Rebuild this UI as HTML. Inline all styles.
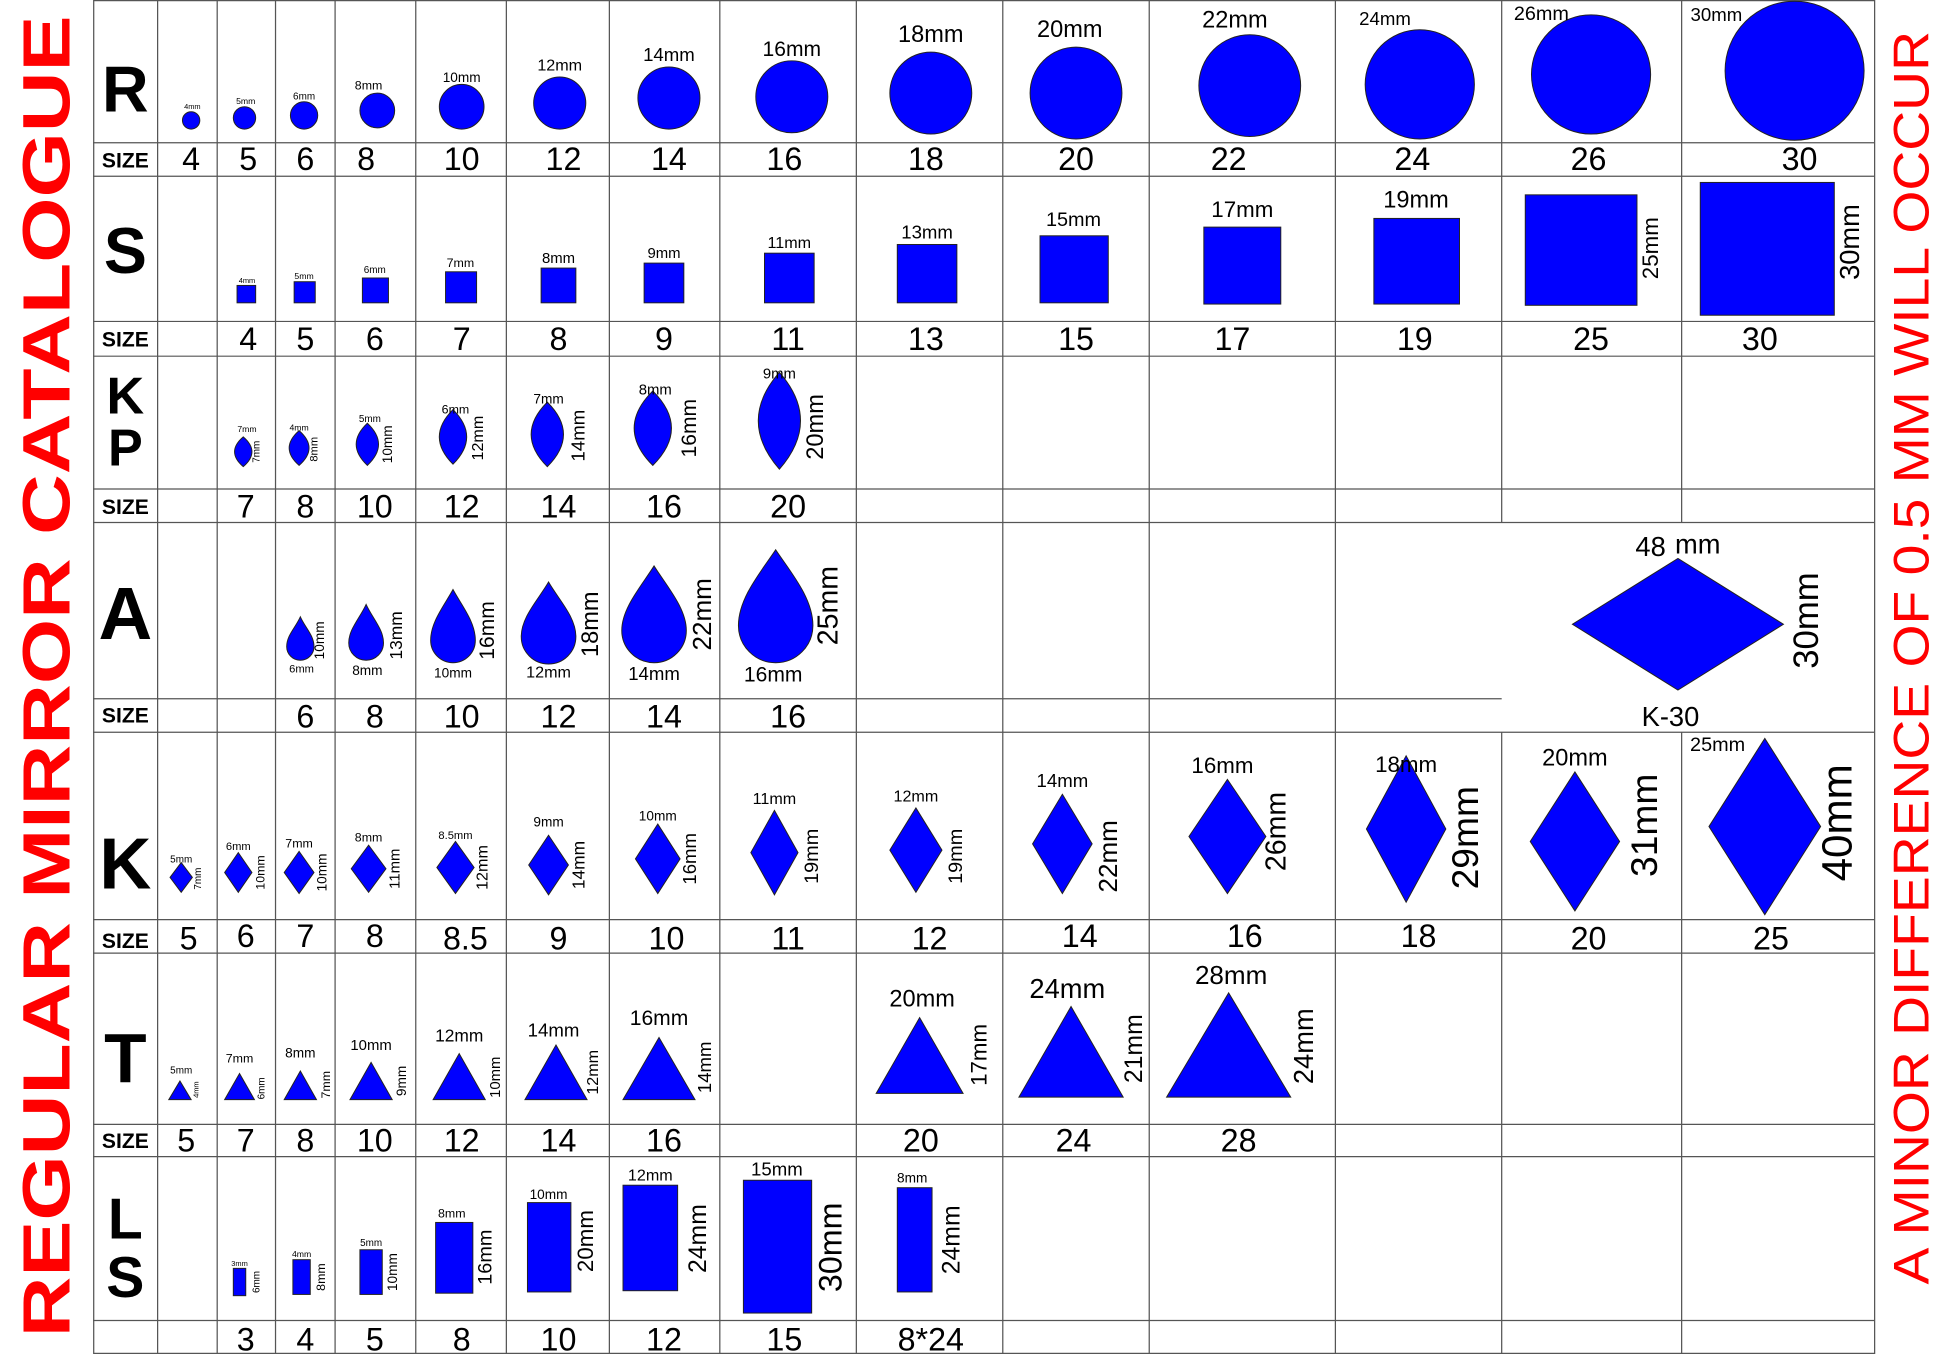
<!DOCTYPE html>
<html><head><meta charset="utf-8"><style>html,body{margin:0;padding:0;background:#fff}svg{display:block}</style></head>
<body>
<svg xmlns="http://www.w3.org/2000/svg" width="1946" height="1354" viewBox="0 0 1568 1091" font-family="Liberation Sans, sans-serif">
<rect width="1568" height="1091" fill="#fff"/>
<g stroke="#555" stroke-width="1" fill="none">
<rect x="75.5" y="0.5" width="1435" height="1090"/>
<line x1="127" y1="0" x2="127" y2="1091"/><line x1="175" y1="0" x2="175" y2="1091"/>
<line x1="222" y1="0" x2="222" y2="1091"/><line x1="270" y1="0" x2="270" y2="1091"/>
<line x1="335" y1="0" x2="335" y2="1091"/><line x1="408" y1="0" x2="408" y2="1091"/>
<line x1="491" y1="0" x2="491" y2="1091"/><line x1="580" y1="0" x2="580" y2="1091"/>
<line x1="690" y1="0" x2="690" y2="1091"/><line x1="808" y1="0" x2="808" y2="1091"/>
<line x1="926" y1="0" x2="926" y2="1091"/><line x1="1076" y1="0" x2="1076" y2="1091"/>
<line x1="1210" y1="0" x2="1210" y2="421"/><line x1="1210" y1="590" x2="1210" y2="1091"/>
<line x1="1355" y1="0" x2="1355" y2="421"/><line x1="1355" y1="590" x2="1355" y2="1091"/>
<line x1="75" y1="115" x2="1510" y2="115"/><line x1="75" y1="142" x2="1510" y2="142"/>
<line x1="75" y1="259" x2="1510" y2="259"/><line x1="75" y1="287" x2="1510" y2="287"/>
<line x1="75" y1="394" x2="1510" y2="394"/><line x1="75" y1="421" x2="1510" y2="421"/>
<line x1="75" y1="563" x2="1210" y2="563"/><line x1="75" y1="590" x2="1510" y2="590"/>
<line x1="75" y1="741" x2="1510" y2="741"/><line x1="75" y1="768" x2="1510" y2="768"/>
<line x1="75" y1="906" x2="1510" y2="906"/><line x1="75" y1="932" x2="1510" y2="932"/>
<line x1="75" y1="1064" x2="1510" y2="1064"/>
</g>
<text transform="translate(56,545) rotate(-90)" text-anchor="middle" font-size="54" font-weight="bold" fill="#f00" textLength="1065" lengthAdjust="spacingAndGlyphs">REGULAR MIRROR CATALOGUE</text>
<text transform="translate(1554,530) rotate(-90)" text-anchor="middle" font-size="40" fill="#f00" textLength="1010" lengthAdjust="spacingAndGlyphs">A MINOR DIFFERENCE OF 0.5 MM WILL OCCUR</text>
<g font-weight="900" fill="#000" text-anchor="middle" font-size="52">
<text x="101" y="90">R</text><text x="101" y="220">S</text>
<text x="101" y="333" font-size="42">K</text><text x="101" y="375" font-size="42">P</text>
<text x="101" y="515" font-size="60">A</text><text x="101" y="716" font-size="58">K</text>
<text x="101" y="872" font-size="56">T</text>
<text x="101" y="998" font-size="46">L</text><text x="101" y="1045" font-size="46">S</text>
</g>
<g font-weight="bold" font-size="17" text-anchor="middle" fill="#000">
<text x="101" y="135">SIZE</text><text x="101" y="279">SIZE</text><text x="101" y="414">SIZE</text>
<text x="101" y="582">SIZE</text><text x="101" y="764">SIZE</text><text x="101" y="925">SIZE</text>
</g>
<g fill="#0000ff" stroke="#222" stroke-width="0.8">
<circle cx="154" cy="97" r="7"/><circle cx="197" cy="95" r="9"/><circle cx="245" cy="93" r="11"/>
<circle cx="304" cy="89" r="14"/><circle cx="372" cy="86" r="18"/><circle cx="451" cy="83" r="21"/>
<circle cx="539" cy="79" r="25"/><circle cx="638" cy="78" r="29"/><circle cx="750" cy="75" r="33"/>
<circle cx="867" cy="75" r="37"/><circle cx="1007" cy="69" r="41"/><circle cx="1144" cy="68" r="44"/>
<circle cx="1282" cy="60" r="48"/><circle cx="1446" cy="57" r="56"/>
<rect x="191" y="230" width="15" height="14"/><rect x="237" y="227" width="17" height="17"/>
<rect x="292" y="224" width="21" height="20"/><rect x="359" y="219" width="25" height="25"/>
<rect x="436" y="216" width="28" height="28"/><rect x="519" y="212" width="32" height="32"/>
<rect x="616" y="204" width="40" height="40"/><rect x="723" y="197" width="48" height="47"/>
<rect x="838" y="190" width="55" height="54"/><rect x="970" y="183" width="62" height="62"/>
<rect x="1107" y="176" width="69" height="69"/><rect x="1229" y="157" width="90" height="89"/>
<rect x="1370" y="147" width="108" height="107"/>
<path d="M196,352 Q210,364 196,376 Q182,364 196,352Z"/>
<path d="M241,347 Q257,361 241,375 Q225,361 241,347Z"/>
<path d="M296,341 Q314,358 296,375 Q278,358 296,341Z"/>
<path d="M365,330 Q387,352 365,374 Q343,352 365,330Z"/>
<path d="M441,324 Q467,350 441,376 Q415,350 441,324Z"/>
<path d="M526,315 Q556,345 526,375 Q496,345 526,315Z"/>
<path d="M628,300 Q662,339 628,378 Q594,339 628,300Z"/>
<path d="M242,497 C246,506 253,512 253,521 A11,11 0 0 1 231,521 C231,512 238,506 242,497Z"/>
<path d="M295,487 C300,498 309,507 309,518 A14,14 0 0 1 281,518 C281,507 290,498 295,487Z"/>
<path d="M365,475 C372,488 383,501 383,516 A18,18 0 0 1 347,516 C347,501 358,488 365,475Z"/>
<path d="M442,469 C450,483 464,497 464,513 A22,22 0 0 1 420,513 C420,497 434,483 442,469Z"/>
<path d="M527,456 C537,472 553,490 553,508 A26,26 0 0 1 501,508 C501,490 517,472 527,456Z"/>
<path d="M625,443 C637,461 655,482 655,504 A30,30 0 0 1 595,504 C595,482 613,461 625,443Z"/>
<path d="M1352,450 L1437,503 L1352,556 L1267,503Z"/>
<path d="M146,695 L155,707 L146,719 L137,707Z"/>
<path d="M192,687 L203,703 L192,719 L181,703Z"/>
<path d="M241,686 L253,703 L241,720 L229,703Z"/>
<path d="M297,681 L311,700 L297,719 L283,700Z"/>
<path d="M367,678 L382,699 L367,720 L352,699Z"/>
<path d="M442,673 L458,697 L442,721 L426,697Z"/>
<path d="M530,664 L548,692 L530,720 L512,692Z"/>
<path d="M624,653 L643,687 L624,721 L605,687Z"/>
<path d="M738,651 L759,685 L738,719 L717,685Z"/>
<path d="M856,640 L880,680 L856,720 L832,680Z"/>
<path d="M989,628 L1020,674 L989,720 L958,674Z"/>
<path d="M1133,609 L1165,668 L1133,727 L1101,668Z"/>
<path d="M1269,622 L1305,678 L1269,734 L1233,678Z"/>
<path d="M1422,595 L1467,666 L1422,737 L1377,666Z"/>
<path d="M145,871 L154,886 L136,886Z"/>
<path d="M193,865 L205,886 L181,886Z"/>
<path d="M242,863 L255,886 L229,886Z"/>
<path d="M299,856 L316,886 L282,886Z"/>
<path d="M370,849 L391,886 L349,886Z"/>
<path d="M448,842 L473,886 L423,886Z"/>
<path d="M531,836 L560,886 L502,886Z"/>
<path d="M741,820 L776,881 L706,881Z"/>
<path d="M863,811 L905,884 L821,884Z"/>
<path d="M990,800 L1040,884 L940,884Z"/>
<rect x="188" y="1022" width="10" height="22"/><rect x="236" y="1015" width="14" height="28"/>
<rect x="290" y="1007" width="18" height="36"/><rect x="351" y="985" width="30" height="57"/>
<rect x="425" y="969" width="35" height="72"/><rect x="502" y="955" width="44" height="85"/>
<rect x="599" y="951" width="55" height="107"/><rect x="723" y="957" width="28" height="84"/>
</g>
<g font-size="26" text-anchor="middle" fill="#000">
<text x="154" y="137">4</text><text x="200" y="137">5</text><text x="246" y="137">6</text><text x="295" y="137">8</text>
<text x="372" y="137">10</text><text x="454" y="137">12</text><text x="539" y="137">14</text><text x="632" y="137">16</text>
<text x="746" y="137">18</text><text x="867" y="137">20</text><text x="990" y="137">22</text><text x="1138" y="137">24</text>
<text x="1280" y="137">26</text><text x="1450" y="137">30</text>
<text x="200" y="282">4</text><text x="246" y="282">5</text><text x="302" y="282">6</text><text x="372" y="282">7</text>
<text x="450" y="282">8</text><text x="535" y="282">9</text><text x="635" y="282">11</text><text x="746" y="282">13</text>
<text x="867" y="282">15</text><text x="993" y="282">17</text><text x="1140" y="282">19</text><text x="1282" y="282">25</text>
<text x="1418" y="282">30</text>
<text x="198" y="417">7</text><text x="246" y="417">8</text><text x="302" y="417">10</text><text x="372" y="417">12</text>
<text x="450" y="417">14</text><text x="535" y="417">16</text><text x="635" y="417">20</text>
<text x="246" y="586">6</text><text x="302" y="586">8</text><text x="372" y="586">10</text><text x="450" y="586">12</text>
<text x="535" y="586">14</text><text x="635" y="586">16</text><text x="1346" y="585" font-size="22">K-30</text>
<text x="152" y="765">5</text><text x="198" y="763">6</text><text x="246" y="763">7</text><text x="302" y="763">8</text>
<text x="375" y="765">8.5</text><text x="450" y="765">9</text><text x="537" y="765">10</text><text x="635" y="765">11</text>
<text x="749" y="765">12</text><text x="870" y="763">14</text><text x="1003" y="763">16</text><text x="1143" y="763">18</text>
<text x="1280" y="765">20</text><text x="1427" y="765">25</text>
<text x="150" y="928">5</text><text x="198" y="928">7</text><text x="246" y="928">8</text><text x="302" y="928">10</text>
<text x="372" y="928">12</text><text x="450" y="928">14</text><text x="535" y="928">16</text><text x="742" y="928">20</text>
<text x="865" y="928">24</text><text x="998" y="928">28</text>
<text x="198" y="1088">3</text><text x="246" y="1088">4</text><text x="302" y="1088">5</text><text x="372" y="1088">8</text>
<text x="450" y="1088">10</text><text x="535" y="1088">12</text><text x="632" y="1088">15</text><text x="750" y="1088">8*24</text>
</g>
<g fill="#000" text-anchor="middle">
<text x="155" y="88" font-size="6">4mm</text><text x="198" y="84" font-size="7">5mm</text><text x="245" y="80" font-size="8">6mm</text>
<text x="297" y="72" font-size="10">8mm</text><text x="372" y="66" font-size="11">10mm</text><text x="451" y="57" font-size="13">12mm</text>
<text x="539" y="49" font-size="15">14mm</text><text x="638" y="45" font-size="17">16mm</text><text x="750" y="34" font-size="19">18mm</text>
<text x="862" y="30" font-size="19">20mm</text><text x="995" y="22" font-size="19">22mm</text><text x="1116" y="20" font-size="15">24mm</text>
<text x="1242" y="16" font-size="16">26mm</text><text x="1383" y="17" font-size="15">30mm</text>
<text x="199" y="228" font-size="6">4mm</text><text x="245" y="225" font-size="7">5mm</text><text x="302" y="220" font-size="8">6mm</text>
<text x="371" y="215" font-size="10">7mm</text><text x="450" y="212" font-size="12">8mm</text><text x="535" y="208" font-size="12">9mm</text>
<text x="636" y="200" font-size="13">11mm</text><text x="747" y="192" font-size="15">13mm</text><text x="865" y="182" font-size="16">15mm</text>
<text x="1001" y="175" font-size="18">17mm</text><text x="1141" y="167" font-size="19">19mm</text>
<text x="199" y="348" font-size="7">7mm</text><text x="241" y="347" font-size="7">4mm</text><text x="298" y="340" font-size="8">5mm</text>
<text x="367" y="333" font-size="10">6mm</text><text x="442" y="325" font-size="11">7mm</text><text x="528" y="318" font-size="12">8mm</text>
<text x="628" y="305" font-size="12">9mm</text>
<text x="243" y="542" font-size="9">6mm</text><text x="296" y="544" font-size="11">8mm</text><text x="365" y="546" font-size="11">10mm</text>
<text x="442" y="546" font-size="13">12mm</text><text x="527" y="548" font-size="15">14mm</text><text x="623" y="549" font-size="17">16mm</text>
<text x="1330" y="448" font-size="22">48</text><text x="1368" y="446" font-size="22">mm</text>
<text x="146" y="695" font-size="8">5mm</text><text x="192" y="685" font-size="9">6mm</text><text x="241" y="683" font-size="10">7mm</text>
<text x="297" y="678" font-size="10">8mm</text><text x="367" y="676" font-size="9">8.5mm</text><text x="442" y="666" font-size="11">9mm</text>
<text x="530" y="661" font-size="11">10mm</text><text x="624" y="648" font-size="13">11mm</text><text x="738" y="646" font-size="13">12mm</text>
<text x="856" y="634" font-size="15">14mm</text><text x="985" y="623" font-size="18">16mm</text><text x="1133" y="622" font-size="18">18mm</text>
<text x="1269" y="617" font-size="19">20mm</text><text x="1384" y="605" font-size="16">25mm</text>
<text x="146" y="865" font-size="8">5mm</text><text x="193" y="856" font-size="10">7mm</text><text x="242" y="852" font-size="11">8mm</text>
<text x="299" y="846" font-size="12">10mm</text><text x="370" y="839" font-size="14">12mm</text><text x="446" y="835" font-size="15">14mm</text>
<text x="531" y="826" font-size="17">16mm</text><text x="743" y="811" font-size="19">20mm</text><text x="860" y="804" font-size="22">24mm</text>
<text x="992" y="793" font-size="21">28mm</text>
<text x="193" y="1020" font-size="6">3mm</text><text x="243" y="1013" font-size="7">4mm</text><text x="299" y="1004" font-size="8">5mm</text>
<text x="364" y="981" font-size="10">8mm</text><text x="442" y="966" font-size="11">10mm</text><text x="524" y="951" font-size="13">12mm</text>
<text x="626" y="947" font-size="15">15mm</text><text x="735" y="953" font-size="11">8mm</text>
</g>
<g fill="#000" text-anchor="middle">
<text transform="translate(1336,200) rotate(-90)" font-size="18">25mm</text>
<text transform="translate(1498,195) rotate(-90)" font-size="22">30mm</text>
<text transform="translate(209,364) rotate(-90)" font-size="8">7mm</text>
<text transform="translate(256,362) rotate(-90)" font-size="9">8mm</text>
<text transform="translate(316,358) rotate(-90)" font-size="11">10mm</text>
<text transform="translate(389,353) rotate(-90)" font-size="13">12mm</text>
<text transform="translate(471,351) rotate(-90)" font-size="15">14mm</text>
<text transform="translate(561,345) rotate(-90)" font-size="17">16mm</text>
<text transform="translate(663,344) rotate(-90)" font-size="19">20mm</text>
<text transform="translate(261,516) rotate(-90)" font-size="11">10mm</text>
<text transform="translate(324,512) rotate(-90)" font-size="14">13mm</text>
<text transform="translate(398,508) rotate(-90)" font-size="17">16mm</text>
<text transform="translate(482,503) rotate(-90)" font-size="19">18mm</text>
<text transform="translate(573,495) rotate(-90)" font-size="21">22mm</text>
<text transform="translate(675,488) rotate(-90)" font-size="23">25mm</text>
<text transform="translate(1465,500) rotate(-90)" font-size="28">30mm</text>
<text transform="translate(162,708) rotate(-90)" font-size="8">7mm</text>
<text transform="translate(213,703) rotate(-90)" font-size="10">10mm</text>
<text transform="translate(263,703) rotate(-90)" font-size="11">10mm</text>
<text transform="translate(322,700) rotate(-90)" font-size="12">11mm</text>
<text transform="translate(393,699) rotate(-90)" font-size="13">12mm</text>
<text transform="translate(471,697) rotate(-90)" font-size="14">14mm</text>
<text transform="translate(561,692) rotate(-90)" font-size="15">16mm</text>
<text transform="translate(659,690) rotate(-90)" font-size="16">19mm</text>
<text transform="translate(775,690) rotate(-90)" font-size="16">19mm</text>
<text transform="translate(900,690) rotate(-90)" font-size="21">22mm</text>
<text transform="translate(1036,670) rotate(-90)" font-size="23">26mm</text>
<text transform="translate(1191,675) rotate(-90)" font-size="30">29mm</text>
<text transform="translate(1335,665) rotate(-90)" font-size="30">31mm</text>
<text transform="translate(1492,663) rotate(-90)" font-size="34">40mm</text>
<text transform="translate(160,878) rotate(-90)" font-size="6">4mm</text>
<text transform="translate(213,877) rotate(-90)" font-size="8">6mm</text>
<text transform="translate(266,874) rotate(-90)" font-size="10">7mm</text>
<text transform="translate(327,871) rotate(-90)" font-size="11">9mm</text>
<text transform="translate(403,868) rotate(-90)" font-size="12">10mm</text>
<text transform="translate(482,864) rotate(-90)" font-size="13">12mm</text>
<text transform="translate(573,860) rotate(-90)" font-size="15">14mm</text>
<text transform="translate(795,850) rotate(-90)" font-size="18">17mm</text>
<text transform="translate(920,845) rotate(-90)" font-size="20">21mm</text>
<text transform="translate(1058,843) rotate(-90)" font-size="22">24mm</text>
<text transform="translate(209,1033) rotate(-90)" font-size="8">6mm</text>
<text transform="translate(262,1029) rotate(-90)" font-size="10">8mm</text>
<text transform="translate(320,1025) rotate(-90)" font-size="11">10mm</text>
<text transform="translate(396,1013) rotate(-90)" font-size="16">16mm</text>
<text transform="translate(478,1000) rotate(-90)" font-size="18">20mm</text>
<text transform="translate(569,998) rotate(-90)" font-size="20">24mm</text>
<text transform="translate(678,1005) rotate(-90)" font-size="26">30mm</text>
<text transform="translate(773,999) rotate(-90)" font-size="20">24mm</text>
</g>
</svg>
</body></html>
